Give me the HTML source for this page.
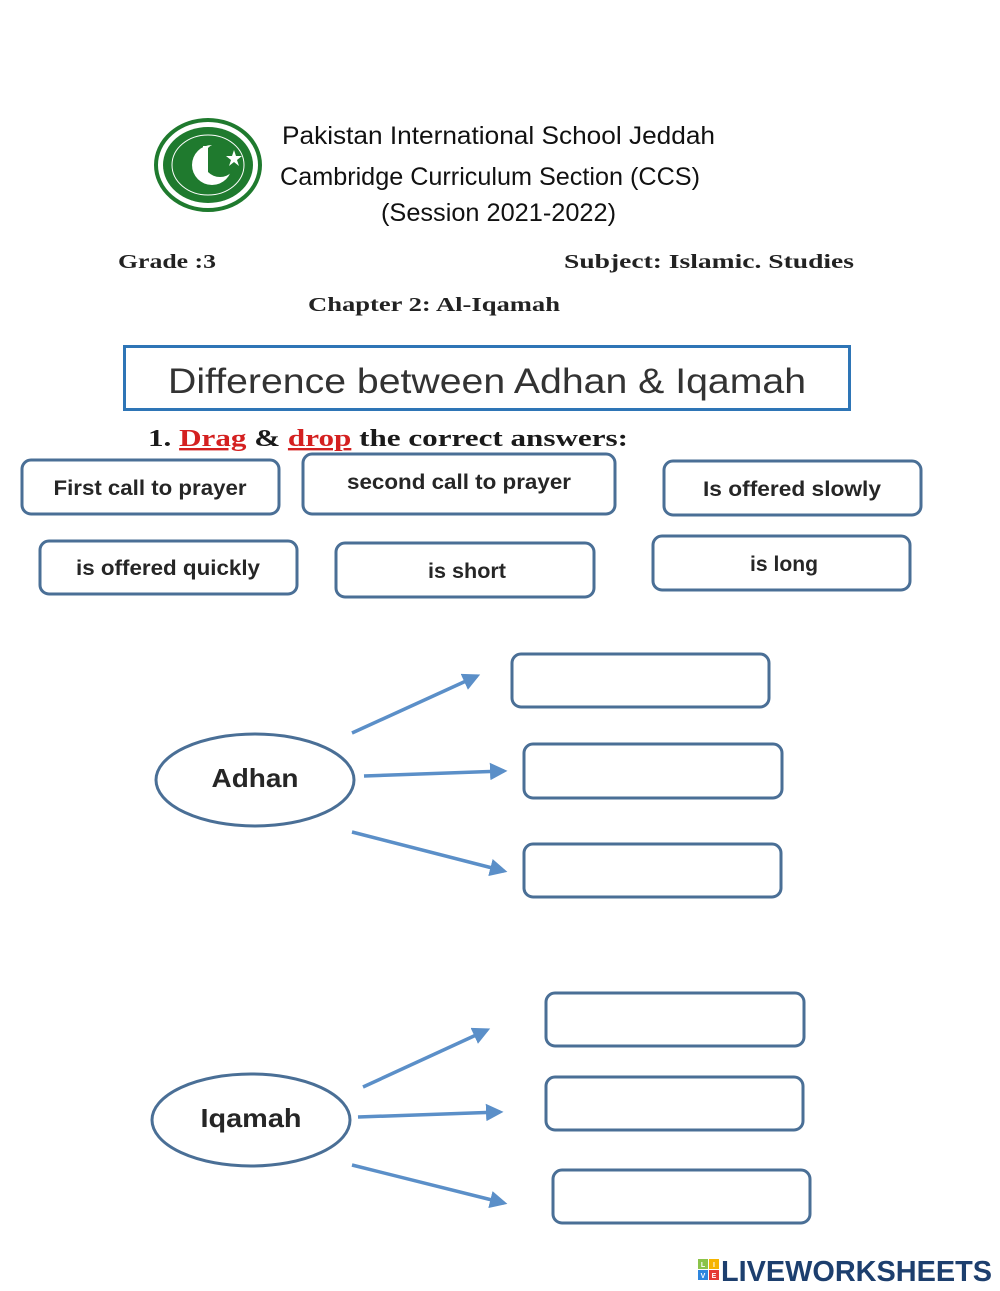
<!DOCTYPE html>
<html><head><meta charset="utf-8"><style>
html,body{margin:0;padding:0;background:#fff;}
svg{display:block;}
</style></head><body>
<svg width="1000" height="1291" viewBox="0 0 1000 1291" xmlns="http://www.w3.org/2000/svg">
<defs>
<marker id="ah" markerWidth="5" markerHeight="5" refX="4" refY="2.5" orient="auto" markerUnits="strokeWidth">
<path d="M0,0 L5,2.5 L0,5 z" fill="#5b8fc8"/>
</marker>
</defs>
<g>
<ellipse cx="208" cy="165" rx="52" ry="45" fill="#fff" stroke="#1f7a2e" stroke-width="4"/>
<ellipse cx="208" cy="165" rx="45" ry="38" fill="#1f7a2e"/>
<ellipse cx="208" cy="165" rx="36" ry="30" fill="#1f7a2e" stroke="#fff" stroke-width="1"/>
<circle cx="212" cy="165" r="20" fill="#fff"/>
<circle cx="220" cy="160" r="17" fill="#1f7a2e"/>
<rect x="203" y="146" width="5" height="28" fill="#fff"/>
<polygon points="234,150 236,156 242,156 237,160 239,166 234,162 229,166 231,160 226,156 232,156" fill="#fff"/>
</g>
<g font-family="'Liberation Sans',sans-serif" fill="#111">
<text x="282" y="144" font-size="25" textLength="433" lengthAdjust="spacingAndGlyphs">Pakistan International School Jeddah</text>
<text x="280" y="185" font-size="25" textLength="420" lengthAdjust="spacingAndGlyphs">Cambridge Curriculum Section (CCS)</text>
<text x="381" y="221" font-size="25" textLength="235" lengthAdjust="spacingAndGlyphs">(Session 2021-2022)</text>
</g>
<g font-family="'Liberation Serif',serif" font-weight="bold" fill="#222" font-size="20">
<text x="118" y="268" textLength="98" lengthAdjust="spacingAndGlyphs">Grade :3</text>
<text x="564" y="268" textLength="290" lengthAdjust="spacingAndGlyphs">Subject: Islamic. Studies</text>
<text x="308" y="311" textLength="252" lengthAdjust="spacingAndGlyphs">Chapter 2: Al-Iqamah</text>
</g>
<rect x="124.5" y="346.5" width="725" height="63" fill="#fff" stroke="#2e75b6" stroke-width="3"/>
<text x="168" y="393" font-family="'Liberation Sans',sans-serif" font-size="35" fill="#333" textLength="638" lengthAdjust="spacingAndGlyphs">Difference between Adhan &amp; Iqamah</text>
<text x="148" y="446" font-family="'Liberation Serif',serif" font-weight="bold" font-size="24" fill="#1a1a1a" textLength="480" lengthAdjust="spacingAndGlyphs">1. <tspan fill="#d42020" text-decoration="underline">Drag</tspan> &amp; <tspan fill="#d42020" text-decoration="underline">drop</tspan> the correct answers:</text>
<g fill="#fff" stroke="#4a6f96" stroke-width="3">
<rect x="22" y="460" width="257" height="54" rx="9"/>
<rect x="303" y="454" width="312" height="60" rx="9"/>
<rect x="664" y="461" width="257" height="54" rx="9"/>
<rect x="40" y="541" width="257" height="53" rx="9"/>
<rect x="336" y="543" width="258" height="54" rx="9"/>
<rect x="653" y="536" width="257" height="54" rx="9"/>
<rect x="512" y="654" width="257" height="53" rx="9"/>
<rect x="524" y="744" width="258" height="54" rx="9"/>
<rect x="524" y="844" width="257" height="53" rx="9"/>
<rect x="546" y="993" width="258" height="53" rx="9"/>
<rect x="546" y="1077" width="257" height="53" rx="9"/>
<rect x="553" y="1170" width="257" height="53" rx="9"/>
<ellipse cx="255" cy="780" rx="99" ry="46"/>
<ellipse cx="251" cy="1120" rx="99" ry="46"/>
</g>
<g font-family="'Liberation Sans',sans-serif" font-weight="bold" fill="#262626" font-size="21" text-anchor="middle">
<text x="150" y="495" textLength="193" lengthAdjust="spacingAndGlyphs">First call to prayer</text>
<text x="459" y="489" textLength="224" lengthAdjust="spacingAndGlyphs">second call to prayer</text>
<text x="792" y="496" textLength="178" lengthAdjust="spacingAndGlyphs">Is offered slowly</text>
<text x="168" y="575" textLength="184" lengthAdjust="spacingAndGlyphs">is offered quickly</text>
<text x="467" y="578" textLength="78" lengthAdjust="spacingAndGlyphs">is short</text>
<text x="784" y="571" textLength="68" lengthAdjust="spacingAndGlyphs">is long</text>
<text x="255" y="787" font-size="26" textLength="87" lengthAdjust="spacingAndGlyphs">Adhan</text>
<text x="251" y="1127" font-size="26" textLength="101" lengthAdjust="spacingAndGlyphs">Iqamah</text>
</g>
<g stroke="#5b8fc8" stroke-width="3.5" marker-end="url(#ah)">
<line x1="352" y1="733" x2="477" y2="676"/>
<line x1="364" y1="776" x2="504" y2="771"/>
<line x1="352" y1="832" x2="504" y2="871"/>
<line x1="363" y1="1087" x2="487" y2="1030"/>
<line x1="358" y1="1117" x2="500" y2="1112"/>
<line x1="352" y1="1165" x2="504" y2="1203"/>
</g>
<g font-family="'Liberation Sans',sans-serif" font-weight="bold" font-size="7" fill="#fff" text-anchor="middle">
<rect x="698" y="1259" width="10" height="10" fill="#8bc34a"/><text x="703" y="1267">L</text>
<rect x="709" y="1259" width="10" height="10" fill="#f5b400"/><text x="714" y="1267">I</text>
<rect x="698" y="1270" width="10" height="10" fill="#2e86de"/><text x="703" y="1278">V</text>
<rect x="709" y="1270" width="10" height="10" fill="#e53935"/><text x="714" y="1278">E</text>
</g>
<text x="721" y="1281" font-family="'Liberation Sans',sans-serif" font-weight="900" font-size="29" fill="#1d3f6e" textLength="271" lengthAdjust="spacingAndGlyphs">LIVEWORKSHEETS</text>
</svg>
</body></html>
